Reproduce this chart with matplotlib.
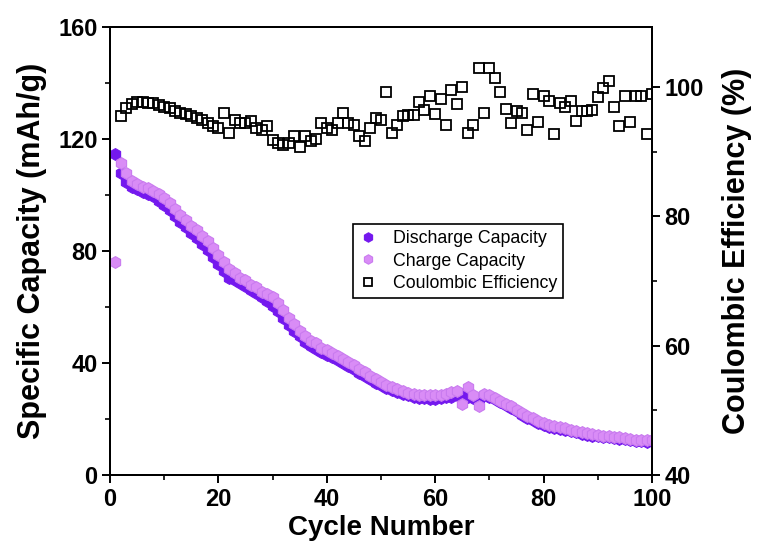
import matplotlib
matplotlib.use("Agg")
import matplotlib.pyplot as plt
from matplotlib.ticker import MultipleLocator
import numpy as np

plt.rcParams['font.family'] = ['Liberation Sans', 'DejaVu Sans']

cycles = list(range(1, 101))

discharge = [114.5, 108, 104.5, 103, 102, 101, 100.5, 99.5, 98, 96.5,
             94.5, 92.5, 90.5, 88.5, 86.5, 84.5, 82.5, 80.5, 78, 75.5,
             73, 70.5, 69.5, 68.5, 67.5, 66, 65, 63.5, 62, 60.5,
             58.5, 56, 53.5, 51.5, 49.5, 47.5, 46, 45, 44, 43,
             42, 41, 40, 39, 37.8, 36.6, 35.4, 34.2, 33, 32,
             31.2, 30.5, 29.8, 29, 28.4, 28, 27.6, 27.4, 27.3, 27.3,
             27.5, 27.7, 28, 28.5, 28.8, 28, 27.5, 27, 28.5, 28,
             27, 26, 25, 24, 22.8, 21.6, 20.5, 19.6, 18.7, 17.8,
             17.2, 16.8, 16.4, 16, 15.6, 15.2, 14.8, 14.4, 14.1, 13.8,
             13.6, 13.4, 13.1, 12.9, 12.7, 12.4, 12.2, 12, 11.8, 12]

charge = [76, 111.5, 107.8, 105, 104, 103, 102.5, 101.5, 100.5, 99,
          97, 95, 93, 91, 89, 87.5, 85.5, 83.5, 81, 78.5,
          76, 73.5, 72, 70.5, 69.5, 68, 67, 65.5, 64.5, 63.5,
          61.5, 59, 56, 54, 51.5, 49.5, 48, 47, 45.5, 44.5,
          43.5, 42.5, 41.5, 40.5, 39.2, 38, 36.8, 35.5, 34.2, 33.2,
          32.2, 31.5, 30.8, 30, 29.4, 29, 28.6, 28.5, 28.5, 28.5,
          28.6, 28.8, 29.5, 30, 25.5, 31.5, 28.5, 24.5, 29, 28.5,
          27.5, 26.5, 25.5, 24.5, 23.2, 22, 21, 20.2, 19.3, 18.5,
          18, 17.6, 17.2, 16.7, 16.2, 15.8, 15.3, 14.9, 14.6, 14.3,
          14.1, 13.9, 13.6, 13.4, 13.1, 12.9, 12.6, 12.5, 12.4, 12.5]

ce_cycles = list(range(2, 101))
ce = [95.6, 96.8, 97.4, 97.7, 97.7, 97.5, 97.5, 97.25, 97.0, 96.8,
      96.25, 96.0, 95.9, 95.6, 95.3, 94.9, 94.5, 94.0, 93.65, 96.0,
      92.9, 94.9, 94.5, 94.5, 94.8, 93.65, 93.4, 94.0, 91.8, 91.4,
      91.05, 91.4, 92.5, 90.7, 92.5, 91.7, 92.0, 94.5, 93.65, 93.4,
      94.5, 96.0, 94.5, 94.2, 92.5, 91.7, 93.65, 95.3, 94.9, 99.2,
      92.9, 94.2, 95.6, 95.7, 95.7, 97.7, 96.4, 98.6, 95.9, 98.1,
      94.2, 99.5, 97.4, 100.0, 92.9, 94.2, 102.9, 96.0, 102.9, 101.4,
      99.2, 96.6, 94.4, 96.25, 96.0, 93.3, 99.0, 94.6, 98.6, 97.9,
      92.7, 97.5, 97.0, 97.9, 94.8, 96.25, 96.25, 96.4, 98.5, 99.9,
      101.0, 97.0, 94.0, 98.6, 94.6, 98.6, 98.6, 92.7, 98.9]

x_ticks = [0, 20, 40, 60, 80, 100]
left_ticks = [0, 40, 80, 120, 160]
right_ticks = [40, 60, 80, 100]

fig = plt.figure(figsize=(7.58, 5.52), dpi=100)
ax = fig.add_axes([110/758, 1-475/552, (652-110)/758, (475-27)/552])
ax2 = ax.twinx()

dis_color = '#7418EE'
chg_color = '#D98CF6'

h1, = ax.plot(cycles, discharge, linestyle='none', marker='h', markersize=8.5,
              markerfacecolor=dis_color, markeredgecolor=dis_color, markeredgewidth=0.8,
              label='Discharge Capacity', zorder=3)
h2, = ax.plot(cycles, charge, linestyle='none', marker='h', markersize=8.5,
              markerfacecolor=chg_color, markeredgecolor='#C97BEF', markeredgewidth=0.8,
              label='Charge Capacity', zorder=4)
h3, = ax2.plot(ce_cycles, ce, linestyle='none', marker='s', markersize=7.4,
               markerfacecolor='none', markeredgecolor='black', markeredgewidth=1.3,
               label='Coulombic Efficiency')

ax.set_xlim(0, 100)
ax.set_ylim(0, 160)
ax2.set_ylim(40, 109.3)

ax.set_xticks(x_ticks)
ax.set_yticks(left_ticks)
ax2.set_yticks(right_ticks)
ax.xaxis.set_minor_locator(MultipleLocator(10))
ax.yaxis.set_minor_locator(MultipleLocator(20))
ax2.yaxis.set_minor_locator(MultipleLocator(10))

for a in (ax, ax2):
    for s in a.spines.values():
        s.set_linewidth(1.4)
    a.tick_params(which='major', direction='out', length=6, width=1.4, labelsize=17)
    a.tick_params(which='minor', direction='out', length=3.5, width=1.2)
ax.tick_params(axis='x', top=False, which='both', pad=3)
ax.tick_params(axis='y', right=False, which='both', pad=3)
ax2.tick_params(axis='y', left=False, which='both', pad=3)

for lab in ax.get_xticklabels() + ax.get_yticklabels() + ax2.get_yticklabels():
    lab.set_fontweight('bold')

ax.set_xlabel('Cycle Number', fontsize=20, fontweight='bold', labelpad=3)
ax.set_ylabel('Specific Capacity (mAh/g)', fontsize=22, fontweight='bold', labelpad=8)
ax2.set_ylabel('Coulombic Efficiency (%)', fontsize=22, fontweight='bold', labelpad=13)

leg = ax2.legend(handles=[h1, h2, h3], loc='upper left',
                 bbox_to_anchor=(353/758, 1-224/552), bbox_transform=fig.transFigure,
                 fontsize=12.8, frameon=True, fancybox=False, framealpha=1,
                 edgecolor='black', borderpad=0.35, labelspacing=0.3,
                 handlelength=1.0, handletextpad=0.9, borderaxespad=0, markerscale=0.8)
leg.get_frame().set_linewidth(1.2)

fig.savefig('out.png', dpi=100)
